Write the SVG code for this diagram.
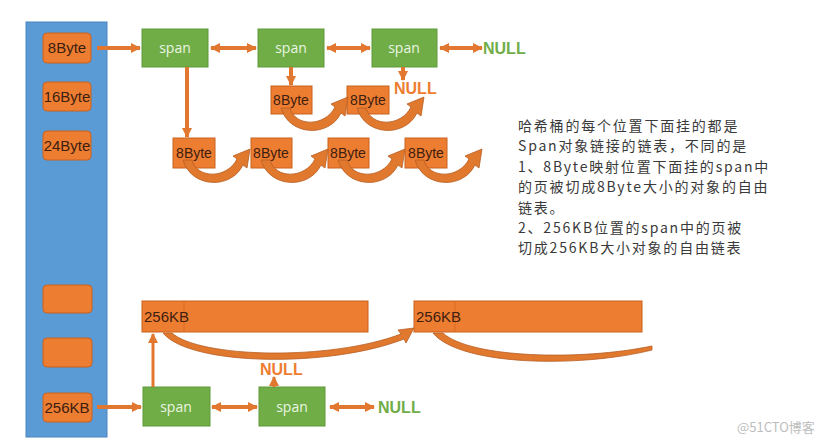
<svg xmlns="http://www.w3.org/2000/svg" width="833" height="445" viewBox="0 0 833 445">
<defs>
<style>
.bucket{fill:#ED7D31;stroke:#C8621F;stroke-width:1}
.btxt{font-family:"Liberation Sans",Arial,sans-serif;font-size:15px;fill:#3d2010;text-anchor:middle}
.span{fill:#70AD47;stroke:#5E9A3A;stroke-width:1}
.stxt{font-family:"Open Sans","Liberation Sans",sans-serif;font-size:14px;fill:#EAF5E2;text-anchor:middle}
.obj{fill:#ED7D31;stroke:#C8621F;stroke-width:1}
.otxt{font-family:"Liberation Sans",Arial,sans-serif;font-size:14px;fill:#3d2010;text-anchor:middle}
.ktxt{font-family:"Liberation Sans",Arial,sans-serif;font-size:15px;fill:#3d2010;text-anchor:start}
.null-g{font-family:"Liberation Sans",Arial,sans-serif;font-size:16px;font-weight:bold;fill:#70AD47}
.null-o{font-family:"Liberation Sans",Arial,sans-serif;font-size:16px;font-weight:bold;fill:#ED7D31}
.link{stroke:#E2772F;stroke-width:4;fill:none}
.curve{fill:#E0782E;stroke:#B85E22;stroke-width:0.8}
.note{font-family:"Noto Sans CJK SC","Noto Sans",sans-serif;font-size:14px;letter-spacing:1.8px;fill:#3a3a3a}
</style>
<marker id="ah" viewBox="0 0 10 10" refX="9" refY="5" markerWidth="10" markerHeight="10" markerUnits="userSpaceOnUse" orient="auto-start-reverse">
<path d="M0,0 L10,5 L0,10 Z" fill="#E2772F"/>
</marker>
<path id="loop" class="curve" d="M 10,22 C 18,50 58,52 70,27 L 74,30 L 77,11 L 60,18 L 64,21 C 54,41 24,41 19,22 Z"/>
</defs>
<rect width="833" height="445" fill="#ffffff"/>

<g id="hash-bucket">
<rect x="26" y="22" width="81" height="415" fill="#5B9BD5" stroke="#4A86C0" stroke-width="1"/>
</g>
<g id="b8"><rect class="bucket" x="43" y="33" width="48" height="30" rx="4"/><text class="btxt" x="67" y="53">8Byte</text></g>
<g id="b16"><rect class="bucket" x="43" y="82" width="48" height="29" rx="4"/><text class="btxt" x="67" y="102">16Byte</text></g>
<g id="b24"><rect class="bucket" x="43" y="131" width="48" height="29" rx="4"/><text class="btxt" x="67" y="151">24Byte</text></g>
<g id="b-empty1"><rect class="bucket" x="43" y="285" width="49" height="28" rx="4"/></g>
<g id="b-empty2"><rect class="bucket" x="43" y="338" width="49" height="29" rx="4"/></g>
<g id="b256"><rect class="bucket" x="43" y="393" width="49" height="29" rx="4"/><text class="btxt" x="67" y="413">256KB</text></g>

<g id="span1"><rect class="span" x="142" y="29" width="66" height="38"/><text class="stxt" x="175" y="53">span</text></g>
<g id="span2"><rect class="span" x="258" y="29" width="66" height="38"/><text class="stxt" x="291" y="53">span</text></g>
<g id="span3"><rect class="span" x="372" y="29" width="65" height="38"/><text class="stxt" x="404" y="53">span</text></g>
<g id="null1"><text class="null-g" x="483" y="54">NULL</text></g>
<g id="null2"><text class="null-o" x="394" y="94">NULL</text></g>

<g id="u1"><rect class="obj" x="271" y="86" width="41" height="28"/><text class="otxt" x="291" y="105">8Byte</text></g>
<g id="u2"><rect class="obj" x="347" y="86" width="42" height="28"/><text class="otxt" x="368" y="105">8Byte</text></g>

<g id="l1"><rect class="obj" x="173" y="138" width="42" height="30"/><text class="otxt" x="194" y="158">8Byte</text></g>
<g id="l2"><rect class="obj" x="251" y="138" width="41" height="30"/><text class="otxt" x="271" y="158">8Byte</text></g>
<g id="l3"><rect class="obj" x="328" y="138" width="41" height="30"/><text class="otxt" x="348" y="158">8Byte</text></g>
<g id="l4"><rect class="obj" x="405" y="138" width="42" height="30"/><text class="otxt" x="426" y="158">8Byte</text></g>

<g id="kb1"><rect class="obj" x="142" y="301" width="226" height="31"/><line x1="184" y1="301" x2="184" y2="332" stroke="#D96C25" stroke-width="1"/><text class="ktxt" x="144" y="322">256KB</text></g>
<g id="kb2"><rect class="obj" x="414" y="301" width="228" height="31"/><line x1="455" y1="301" x2="455" y2="332" stroke="#D96C25" stroke-width="1"/><text class="ktxt" x="416" y="322">256KB</text></g>

<g id="span4"><rect class="span" x="143" y="387" width="67" height="39"/><text class="stxt" x="176" y="412">span</text></g>
<g id="span5"><rect class="span" x="259" y="387" width="66" height="39"/><text class="stxt" x="292" y="412">span</text></g>
<g id="null3"><text class="null-g" x="378" y="413">NULL</text></g>
<g id="null4"><text class="null-o" x="260" y="375">NULL</text></g>

<g id="connectors">
<line class="link" x1="97" y1="48" x2="140" y2="48" marker-end="url(#ah)"/>
<line class="link" x1="211" y1="48" x2="256" y2="48" marker-start="url(#ah)" marker-end="url(#ah)"/>
<line class="link" x1="327" y1="48" x2="370" y2="48" marker-start="url(#ah)" marker-end="url(#ah)"/>
<line class="link" x1="440" y1="48" x2="482" y2="48" marker-start="url(#ah)" marker-end="url(#ah)"/>
<line class="link" x1="187" y1="67" x2="187" y2="137" marker-end="url(#ah)"/>
<line class="link" x1="291" y1="67" x2="291" y2="85" marker-end="url(#ah)"/>
<line class="link" x1="403" y1="67" x2="403" y2="80" marker-end="url(#ah)"/>
<use href="#loop" transform="translate(271,86)"/>
<use href="#loop" transform="translate(347,86)"/>
<use href="#loop" transform="translate(173,138)"/>
<use href="#loop" transform="translate(251,138)"/>
<use href="#loop" transform="translate(328,138)"/>
<use href="#loop" transform="translate(405,138)"/>
<line class="link" x1="97" y1="407" x2="141" y2="407" marker-end="url(#ah)"/>
<line class="link" x1="212" y1="407" x2="257" y2="407" marker-start="url(#ah)" marker-end="url(#ah)"/>
<line class="link" x1="330" y1="407" x2="374" y2="407" marker-start="url(#ah)" marker-end="url(#ah)"/>
<line x1="153" y1="387" x2="153" y2="334" stroke="#E2772F" stroke-width="3" marker-end="url(#ah)"/>
<line x1="274" y1="387" x2="274" y2="377" stroke="#E2772F" stroke-width="3" marker-end="url(#ah)"/>
<path class="curve" d="M 163,333 C 190,366 330,368 404,339 L 406,343 L 414,328 L 398,330 L 401,334 C 330,361 200,358 172,333 Z"/>
<path class="curve" d="M 433,333 C 460,366 580,368 652,350 L 652,346 C 580,361 470,358 443,333 Z"/>
</g>

<g id="note">
<text class="note" x="518" y="131"><tspan x="518" y="131">哈希桶的每个位置下面挂的都是</tspan><tspan x="518" y="151.4">Span对象链接的链表，不同的是</tspan><tspan x="518" y="171.8">1、8Byte映射位置下面挂的span中</tspan><tspan x="518" y="192.2">的页被切成8Byte大小的对象的自由</tspan><tspan x="518" y="212.6">链表。</tspan><tspan x="518" y="233">2、256KB位置的span中的页被</tspan><tspan x="518" y="253.4">切成256KB大小对象的自由链表</tspan></text>
</g>
<text x="737" y="432" font-family="Noto Sans CJK SC,Liberation Sans,sans-serif" font-size="13" fill="#bdbdbd">@51CTO博客</text>
</svg>
